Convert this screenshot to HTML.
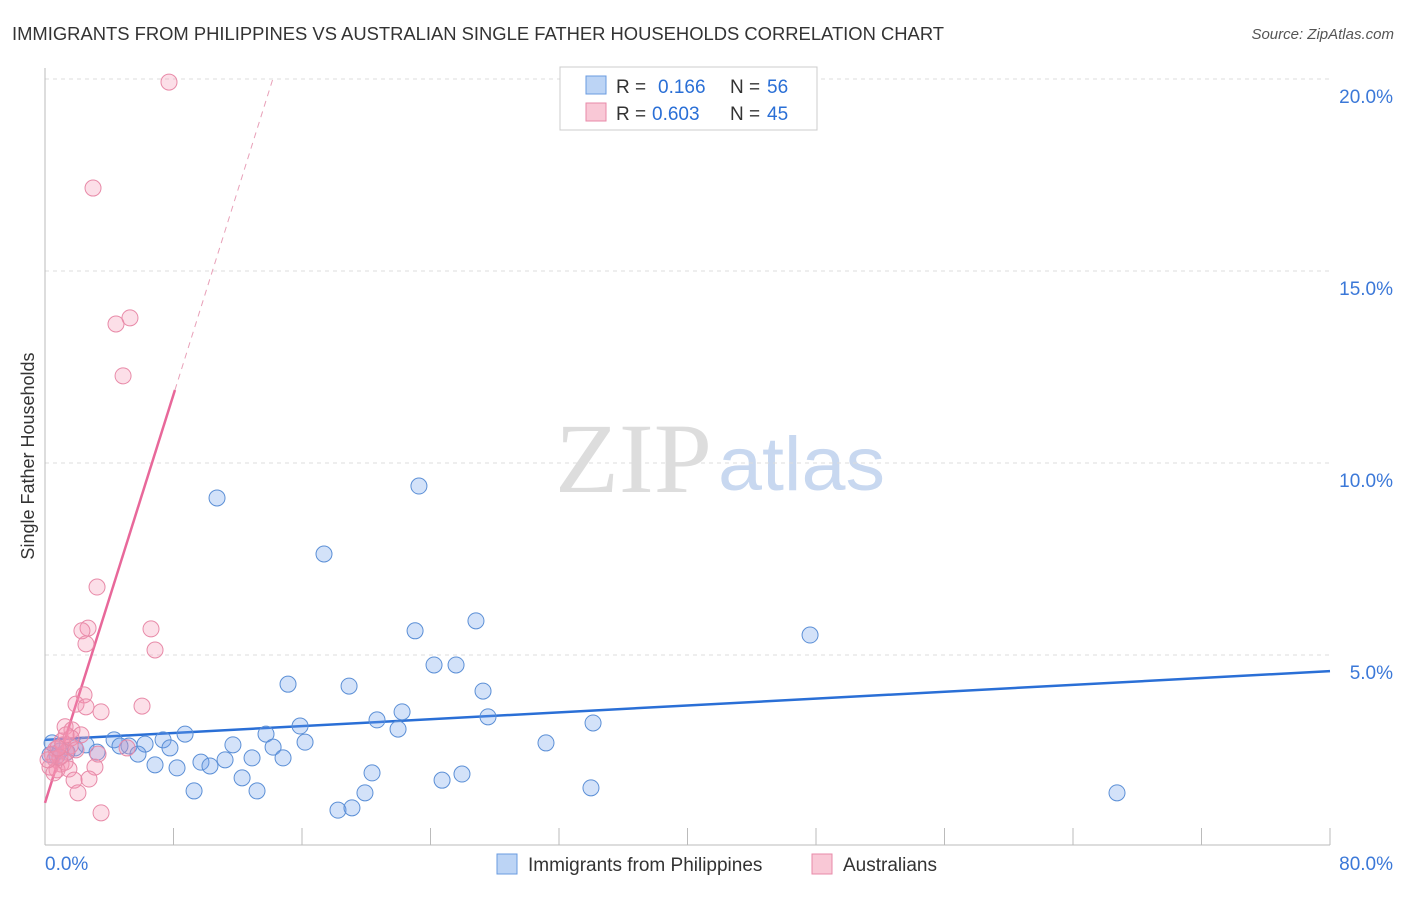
<!DOCTYPE html>
<html><head><meta charset="utf-8"><style>
body{margin:0;background:#fff;font-family:"Liberation Sans",sans-serif;}
svg text{font-family:"Liberation Sans",sans-serif;}
</style></head><body>
<svg id="chart" width="1406" height="892" xmlns="http://www.w3.org/2000/svg">
<text x="12" y="40" font-size="18" fill="#333" textLength="932" lengthAdjust="spacingAndGlyphs">IMMIGRANTS FROM PHILIPPINES VS AUSTRALIAN SINGLE FATHER HOUSEHOLDS CORRELATION CHART</text>
<text x="1394" y="39" font-size="15" fill="#555" font-style="italic" text-anchor="end">Source: ZipAtlas.com</text>
<text x="0" y="0" font-size="18" fill="#333" text-anchor="middle" transform="translate(34,456) rotate(-90)">Single Father Households</text>
<g><text x="555" y="492" font-size="100" fill="#ddd" style="font-family:'Liberation Serif',serif" textLength="157" lengthAdjust="spacingAndGlyphs">ZIP</text><text x="718" y="490" font-size="76" fill="#c8d8f0" textLength="167" lengthAdjust="spacingAndGlyphs">atlas</text></g>
<g id="grid"></g><g id="axes"></g><g id="lines"></g><g id="pts"></g>
<g>
<rect x="560" y="67" width="257" height="63" fill="#fff" stroke="#ccc"/>
<rect x="586" y="76" width="20" height="18" fill="#bcd4f5" stroke="#6a9be0"/>
<text x="616" y="93" font-size="19" fill="#333">R =</text><text x="658" y="93" font-size="19" fill="#2a6fd6">0.166</text>
<text x="730" y="93" font-size="19" fill="#333">N =</text><text x="767" y="93" font-size="19" fill="#2a6fd6">56</text>
<rect x="586" y="103" width="20" height="18" fill="#f9c8d6" stroke="#e88aa8"/>
<text x="616" y="120" font-size="19" fill="#333">R =</text><text x="652" y="120" font-size="19" fill="#2a6fd6">0.603</text>
<text x="730" y="120" font-size="19" fill="#333">N =</text><text x="767" y="120" font-size="19" fill="#2a6fd6">45</text>
</g>
<g>
<rect x="497" y="854" width="20" height="20" fill="#bcd4f5" stroke="#6a9be0"/>
<text x="528" y="871" font-size="19" fill="#333">Immigrants from Philippines</text>
<rect x="812" y="854" width="20" height="20" fill="#f9c8d6" stroke="#e88aa8"/>
<text x="843" y="871" font-size="19" fill="#333">Australians</text>
</g>
</svg>
<script>
const blueX=[10.71,23.28,17.37,26.83,23.04,47.63,24.22,25.59,15.13,18.93,27.27,22.23,27.58,20.67,15.88,21.98,34.12,13.76,8.72,16.19,11.70,31.19,7.35,4.30,6.23,7.78,5.23,14.20,5.79,11.21,12.89,14.82,9.71,10.27,6.85,8.22,20.36,25.96,12.27,24.72,9.28,13.20,33.99,19.92,66.74,18.24,19.11,0.44,0.93,1.87,3.24,4.67,0.75,2.55,0.31,1.37];
const blueY=[9.09,9.40,7.63,5.89,5.63,5.52,4.74,4.74,4.24,4.19,4.06,3.52,3.39,3.31,3.15,3.07,3.23,2.94,2.94,2.73,2.66,2.71,2.79,2.79,2.68,2.58,2.63,2.60,2.42,2.27,2.32,2.32,2.21,2.11,2.14,2.06,1.93,1.90,1.80,1.74,1.46,1.46,1.54,1.41,1.41,0.96,1.02,2.71,2.50,2.58,2.47,2.63,2.37,2.66,2.40,2.47];
const pinkX=[7.72,2.99,5.29,4.42,4.86,3.24,6.60,2.68,2.30,2.55,6.85,2.43,1.93,2.55,3.49,6.04,1.25,1.68,2.24,1.06,1.56,0.68,1.31,0.44,0.62,1.00,0.31,0.75,1.25,3.11,1.49,1.81,2.74,2.05,3.49,3.30,5.11,0.56,1.12,1.62,0.93,0.19,0.81,1.93,1.31];
const pinkY=[19.92,17.16,13.78,13.62,12.27,6.77,5.68,5.70,5.63,5.29,5.13,3.96,3.72,3.65,3.52,3.67,3.13,3.05,2.92,2.76,2.63,2.55,2.47,2.42,2.29,2.16,2.08,2.01,2.21,2.08,2.03,1.74,1.77,1.41,0.89,2.42,2.58,1.93,2.66,2.84,2.34,2.27,2.58,2.53,2.92];
const yTicks=[5,10,15,20];
const yTickLabels=["5.0%","10.0%","15.0%","20.0%"];
const blueTrend=[2.79,4.58];
const pinkTrend=[1.15,1.329];
const NS="http://www.w3.org/2000/svg";
const sx=v=>45+v*1285/80, sy=v=>847-v*38.4;
function mk(parent,tag,attrs){const e=document.createElementNS(NS,tag);for(const k in attrs)e.setAttribute(k,attrs[k]);document.getElementById(parent).appendChild(e);return e;}
yTicks.forEach((t,i)=>{
 const g=mk('grid','line',{x1:45,x2:1330,y1:sy(t),y2:sy(t),stroke:'#ddd','stroke-dasharray':'4,4'});
 
 
 const l=mk('axes','text',{x:1393,y:sy(t)+24,'font-size':19,fill:'#3b78d8','text-anchor':'end'});
 l.textContent=yTickLabels[i];
 
 
});
const ax=mk('axes','line',{x1:45,x2:1330,y1:845,y2:845,stroke:'#bbb'});


const ay=mk('axes','line',{x1:45,x2:45,y1:68,y2:845,stroke:'#bbb'});


for(let i=0;i<=10;i++){const t=mk('axes','line',{x1:sx(i*8),x2:sx(i*8),y1:828,y2:845,stroke:'#bbb'});
 
 }
const xl0=mk('axes','text',{x:45,y:870,'font-size':19,fill:'#3b78d8'});xl0.textContent='0.0%';


const xl1=mk('axes','text',{x:1393,y:870,'font-size':19,fill:'#3b78d8','text-anchor':'end'});xl1.textContent='80.0%';


blueX.forEach((x,i)=>{const c=mk('pts','circle',{cx:sx(x),cy:sy(blueY[i]),r:8,fill:'rgba(110,160,235,0.3)',stroke:'#5b8fd6','stroke-width':1});
 
 });
pinkX.forEach((x,i)=>{const c=mk('pts','circle',{cx:sx(x),cy:sy(pinkY[i]),r:8,fill:'rgba(245,150,180,0.3)',stroke:'#e88aa8','stroke-width':1});
 
 });
const bl=mk('lines','line',{x1:sx(0),y1:sy(blueTrend[0]),x2:sx(80),y2:sy(blueTrend[1]),stroke:'#2a6fd6','stroke-width':2.5});


const xe=8.09, xd=(20-pinkTrend[0])/pinkTrend[1];
const pl=mk('lines','line',{x1:sx(0),y1:sy(pinkTrend[0]),x2:sx(xe),y2:sy(pinkTrend[0]+pinkTrend[1]*xe),stroke:'#e8689a','stroke-width':2.5});


const pd=mk('lines','line',{x1:sx(xe),y1:sy(pinkTrend[0]+pinkTrend[1]*xe),x2:sx(xd),y2:sy(20),stroke:'#e8a0b8','stroke-width':1,'stroke-dasharray':'6,5'});


</script>
</body></html>
